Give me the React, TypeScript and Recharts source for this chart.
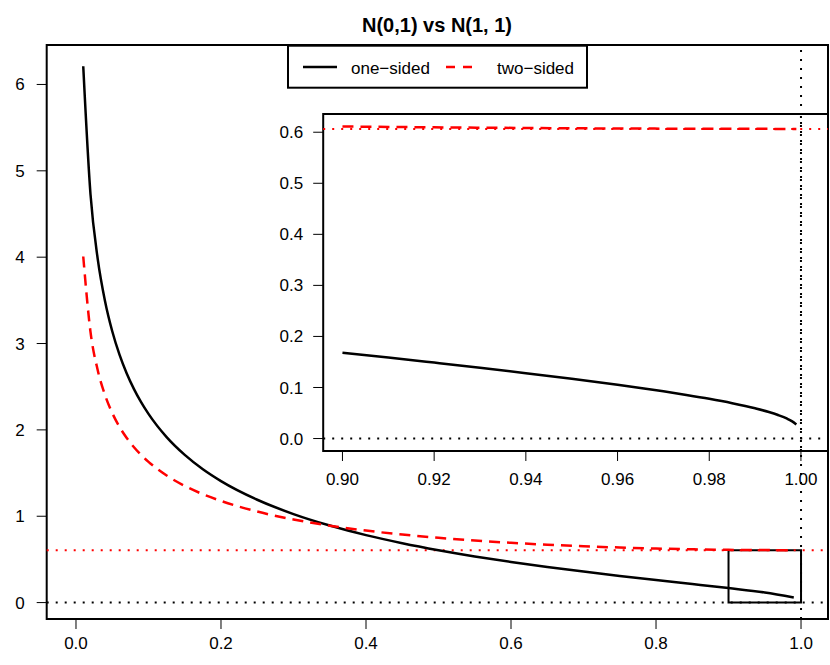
import { ComposedChart, Line, XAxis, YAxis, ReferenceLine, ReferenceArea } from "recharts";

// main panel: p on x, curve values on y
const mainP = [0.01, 0.02, 0.03, 0.04, 0.05, 0.06, 0.07, 0.08, 0.09, 0.1, 0.125, 0.15, 0.175, 0.2, 0.25, 0.3, 0.35, 0.4, 0.45, 0.5, 0.55, 0.6, 0.65, 0.7, 0.75, 0.8, 0.85, 0.9, 0.95, 0.99];
const oneSided = [6.211, 4.729, 3.978, 3.493, 3.142, 2.871, 2.653, 2.472, 2.318, 2.185, 1.916, 1.71, 1.544, 1.407, 1.191, 1.025, 0.892, 0.781, 0.688, 0.607, 0.535, 0.471, 0.413, 0.359, 0.309, 0.261, 0.215, 0.168, 0.117, 0.059];
const twoSided = [4.008, 3.135, 2.691, 2.404, 2.196, 2.035, 1.906, 1.799, 1.708, 1.63, 1.472, 1.351, 1.255, 1.177, 1.054, 0.962, 0.891, 0.834, 0.788, 0.75, 0.718, 0.692, 0.67, 0.652, 0.638, 0.626, 0.617, 0.611, 0.608, 0.607];

// zoomed inset, p from 0.90 to 0.999
const insetP = [0.9, 0.91, 0.92, 0.93, 0.94, 0.95, 0.96, 0.97, 0.975, 0.98, 0.985, 0.99, 0.993, 0.995, 0.997, 0.998, 0.999];
const insetOne = [0.168, 0.1587, 0.1488, 0.1387, 0.1281, 0.1171, 0.1053, 0.0925, 0.0854, 0.0778, 0.0692, 0.0592, 0.052, 0.0461, 0.0389, 0.0341, 0.0276];
const insetTwo = [0.6113, 0.6104, 0.6096, 0.6089, 0.6083, 0.6077, 0.6073, 0.607, 0.6068, 0.6067, 0.6066, 0.6066, 0.6066, 0.6065, 0.6065, 0.6065, 0.6065];

const cutoff = 0.6065;

const mainXTicks = [0, 0.2, 0.4, 0.6, 0.8, 1];
const mainYTicks = [0, 1, 2, 3, 4, 5, 6];
const insetXTicks = [0.9, 0.92, 0.94, 0.96, 0.98, 1];
const insetYTicks = [0, 0.1, 0.2, 0.3, 0.4, 0.5, 0.6];

const FONT = "'Liberation Sans', Arial, Helvetica, sans-serif";
const DOT = "2 7";
const DASH = "11 7";

const mainX: [number, number] = [-0.0404, 1.0372];
const mainY: [number, number] = [-0.19, 6.457];
const insetX: [number, number] = [0.8958, 1.0059];
const insetY: [number, number] = [-0.0244, 0.6357];

const tickStyle = { fill: "#000", fontSize: 17, fontFamily: FONT };

function MainChart() {
  const data = mainP.map((p, i) => ({ p, one: oneSided[i], two: twoSided[i] }));
  return (
    <ComposedChart width={830} height={665} data={data} margin={{ top: 45, right: 2, bottom: 0, left: 0 }}>
      <XAxis
        type="number"
        dataKey="p"
        domain={mainX}
        ticks={mainXTicks}
        interval={0}
        allowDataOverflow
        height={46}
        axisLine={false}
        tickLine={{ stroke: "#000" }}
        tickSize={10}
        tickMargin={8}
        tick={tickStyle}
        tickFormatter={(v: number) => v.toFixed(1)}
      />
      <YAxis
        type="number"
        domain={mainY}
        ticks={mainYTicks}
        interval={0}
        allowDataOverflow
        width={46.7}
        axisLine={false}
        tickLine={{ stroke: "#000" }}
        tickSize={10}
        tickMargin={12}
        tick={tickStyle}
      />
      <ReferenceArea x1={mainX[0]} x2={mainX[1]} y1={mainY[0]} y2={mainY[1]} fill="none" stroke="#000" strokeWidth={2} ifOverflow="visible" />
      <ReferenceLine y={0} stroke="#000" strokeWidth={2} strokeDasharray={DOT} />
      <ReferenceLine y={cutoff} stroke="#ff0000" strokeWidth={2} strokeDasharray={DOT} />
      <ReferenceLine x={1} stroke="#000" strokeWidth={2} strokeDasharray={DOT} />
      <ReferenceArea x1={0.9} x2={1} y1={0} y2={cutoff} fill="none" stroke="#000" strokeWidth={2} />
      <Line dataKey="one" type="monotone" stroke="#000" strokeWidth={2.5} dot={false} isAnimationActive={false} />
      <Line dataKey="two" type="monotone" stroke="#ff0000" strokeWidth={2.5} strokeDasharray={DASH} dot={false} isAnimationActive={false} />
    </ComposedChart>
  );
}

function InsetChart() {
  const data = insetP.map((p, i) => ({ p, one: insetOne[i], two: insetTwo[i] }));
  return (
    <ComposedChart width={570} height={400} data={data} margin={{ top: 14, right: 2, bottom: 0, left: 0 }}>
      <XAxis
        type="number"
        dataKey="p"
        domain={insetX}
        ticks={insetXTicks}
        interval={0}
        allowDataOverflow
        height={49}
        axisLine={false}
        tickLine={{ stroke: "#000" }}
        tickSize={10}
        tickMargin={12}
        tick={tickStyle}
        tickFormatter={(v: number) => v.toFixed(2)}
      />
      <YAxis
        type="number"
        domain={insetY}
        ticks={insetYTicks}
        interval={0}
        allowDataOverflow
        width={63.2}
        axisLine={false}
        tickLine={{ stroke: "#000" }}
        tickSize={10}
        tickMargin={10}
        tick={tickStyle}
        tickFormatter={(v: number) => v.toFixed(1)}
      />
      <ReferenceArea x1={insetX[0]} x2={insetX[1]} y1={insetY[0]} y2={insetY[1]} fill="none" stroke="#000" strokeWidth={2} ifOverflow="visible" />
      <ReferenceLine y={0} stroke="#000" strokeWidth={2} strokeDasharray={DOT} />
      <ReferenceLine y={cutoff} stroke="#ff0000" strokeWidth={2} strokeDasharray={DOT} />
      <ReferenceLine x={1} stroke="#000" strokeWidth={2} strokeDasharray={DOT} />
      <Line dataKey="one" type="monotone" stroke="#000" strokeWidth={2.5} dot={false} isAnimationActive={false} />
      <Line dataKey="two" type="monotone" stroke="#ff0000" strokeWidth={2.5} strokeDasharray={DASH} dot={false} isAnimationActive={false} />
    </ComposedChart>
  );
}

function Overlay() {
  return (
    <svg width={830} height={665} style={{ position: "absolute", left: 0, top: 0, pointerEvents: "none" }}>
      <text x={437} y={32} textAnchor="middle" fontFamily={FONT} fontSize={20} fontWeight="bold" fill="#000">
        N(0,1) vs N(1, 1)
      </text>
      <rect x={288} y={45.7} width={299} height={42} fill="#fff" stroke="#000" strokeWidth={2} />
      <line x1={303} y1={67} x2={337} y2={67} stroke="#000" strokeWidth={2.5} />
      <text x={351} y={73.5} fontFamily={FONT} fontSize={17} fill="#000">one−sided</text>
      <line x1={446} y1={67} x2={478} y2={67} stroke="#ff0000" strokeWidth={2.5} strokeDasharray="9 8" />
      <text x={497} y={73.5} fontFamily={FONT} fontSize={17} fill="#000">two−sided</text>
    </svg>
  );
}

export default function App() {
  return (
    <div style={{ position: "absolute", left: 0, top: 0, width: 830, height: 665, background: "#fff", fontFamily: FONT }}>
      <div style={{ position: "absolute", left: 0, top: 0 }}>
        <MainChart />
      </div>
      <div style={{ position: "absolute", left: 260, top: 100 }}>
        <InsetChart />
      </div>
      <Overlay />
    </div>
  );
}
